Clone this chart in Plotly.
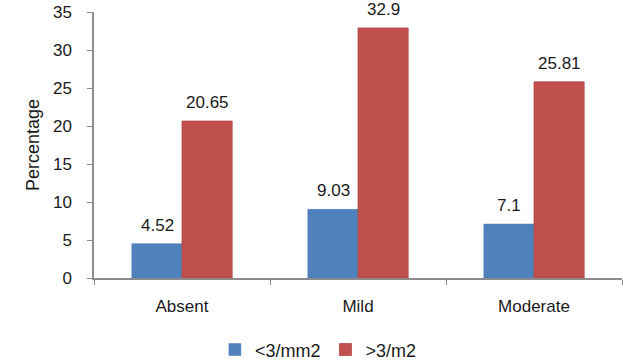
import plotly.graph_objects as go

categories = ["Absent", "Mild", "Moderate"]
series_names = ["<3/mm2", ">3/m2"]
low_values = [4.52, 9.03, 7.1]
high_values = [20.65, 32.9, 25.81]
low_labels = ["4.52", "9.03", "7.1"]
high_labels = ["20.65", "32.9", "25.81"]
y_ticks = [0, 5, 10, 15, 20, 25, 30, 35]

font_family = "Liberation Sans, Arial, sans-serif"
text_color = "#1a1a1a"
axis_color = "#8c8c8c"

fig = go.Figure()
fig.add_trace(go.Bar(
    x=categories, y=low_values, name=series_names[0],
    marker=dict(color="#4F81BD", line=dict(color="#4A7AB3", width=0.5)),
))
fig.add_trace(go.Bar(
    x=categories, y=high_values, name=series_names[1],
    marker=dict(color="#C0504D", line=dict(color="#B04845", width=0.8)),
))

annotations = []
for cat, v, lab in zip(categories, low_values, low_labels):
    annotations.append(dict(x=cat, y=v, xref="x", yref="y", text=lab, showarrow=False,
                            xanchor="center", yanchor="bottom", xshift=-25, yshift=7,
                            font=dict(size=17, color=text_color)))
for cat, v, lab in zip(categories, high_values, high_labels):
    annotations.append(dict(x=cat, y=v, xref="x", yref="y", text=lab, showarrow=False,
                            xanchor="center", yanchor="bottom", xshift=25, yshift=7,
                            font=dict(size=17, color=text_color)))

fig.update_layout(
    width=623, height=362,
    margin=dict(l=94, r=1, t=12, b=84, autoexpand=False),
    paper_bgcolor="white", plot_bgcolor="white",
    barmode="group", bargap=0.43, bargroupgap=0,
    font=dict(family=font_family, size=17, color=text_color),
    showlegend=True,
    legend=dict(orientation="h", x=0.425, xanchor="center", y=-0.27, yanchor="middle",
                font=dict(size=18, color=text_color), itemwidth=30, tracegroupgap=0,
                bgcolor="rgba(0,0,0,0)"),
    annotations=annotations,
)
fig.update_xaxes(
    type="category", tickson="boundaries", ticks="outside", ticklen=5,
    tickcolor=axis_color, showline=True, linecolor=axis_color, linewidth=1.5,
    showgrid=False, tickfont=dict(size=17), ticklabelstandoff=12, automargin=False,
)
fig.update_yaxes(
    range=[0, 35], tickvals=y_ticks, ticks="outside", ticklen=5,
    tickcolor=axis_color, showline=True, linecolor=axis_color, linewidth=1.5,
    showgrid=False, zeroline=False, tickfont=dict(size=17),
    ticklabelstandoff=12, automargin=False,
    title=dict(text="Percentage", font=dict(size=18), standoff=9),
)

fig.write_html("out.html", config={"displayModeBar": False},
               post_script="document.body.style.margin='0px';")
